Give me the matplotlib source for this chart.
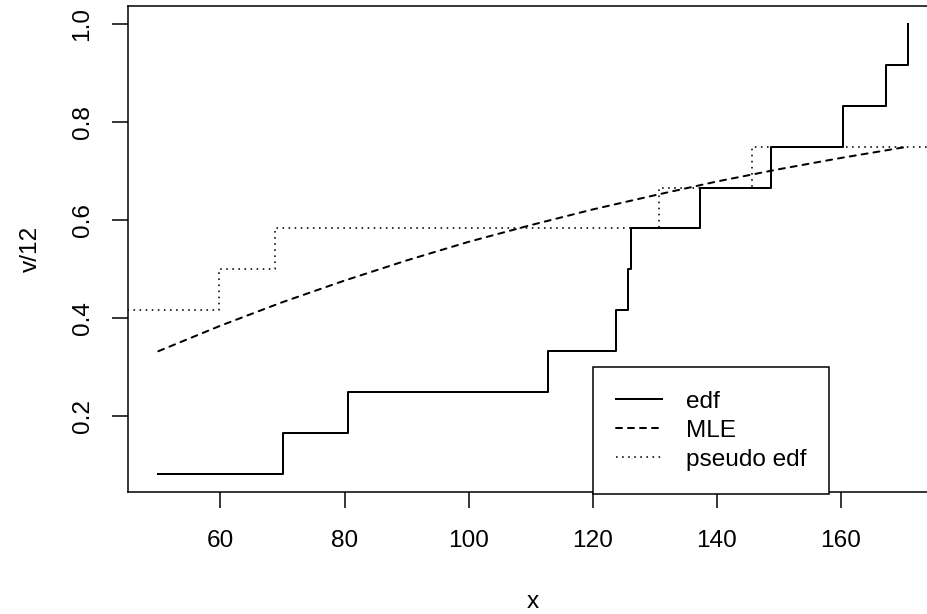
import numpy as np
import matplotlib
matplotlib.use("Agg")
import matplotlib.pyplot as plt

plt.rcParams.update({
    "font.family": ["Liberation Sans", "DejaVu Sans"],
    "font.size": 17.6,
})

# ---- data -------------------------------------------------------------
# ordered sample (edf jumps by 1/12 at each point)
x_obs = [50.0, 70.1, 80.6, 112.8, 123.7, 125.6, 126.1, 137.2, 148.8, 160.3, 167.2, 170.8]
v = np.arange(1, 13)

# fitted (MLE) distribution function
mle_x = [50, 60, 70, 80, 90, 100, 110, 120, 130, 140, 150, 160, 170.8]
mle_y = [0.333, 0.385, 0.433, 0.477, 0.518, 0.556, 0.590, 0.622, 0.651,
         0.679, 0.704, 0.727, 0.750]

# pseudo edf: jump points and levels
pseudo_breaks = [59.85, 68.8, 130.65, 145.7]
pseudo_levels = [5 / 12, 6 / 12, 7 / 12, 8 / 12, 9 / 12]

xticks = [60, 80, 100, 120, 140, 160]
yticks = [0.2, 0.4, 0.6, 0.8, 1.0]

# ---- figure -------------------------------------------------------------
fig = plt.figure(figsize=(9.28, 6.14), dpi=100)
ax = fig.add_axes([0.1383, 0.1992, 0.8725, 0.791])

# R-style axis ranges (4% padding)
xr = max(x_obs) - min(x_obs)
xlim = (min(x_obs) - 0.04 * xr, max(x_obs) + 0.04 * xr)
yr = 1 - 1 / 12
ylim = (1 / 12 - 0.04 * yr, 1 + 0.04 * yr)

lw = 1.44
ax.step(x_obs, v / 12, where="post", color="black", lw=lw, label="edf")
ax.plot(mle_x, mle_y, color="black", lw=lw, linestyle=(0, (3, 3)),
        dash_capstyle="round", label="MLE")
px = [xlim[0] - 5] + pseudo_breaks + [xlim[1] + 5]
py = pseudo_levels + [pseudo_levels[-1]]
ax.step(px, py, where="post", color="black", lw=lw * 0.8,
        linestyle=(0, (1, 2.8)), label="pseudo edf")

ax.set_xlim(xlim)
ax.set_ylim(ylim)
ax.set_xticks(xticks)
ax.set_xticklabels([str(t) for t in xticks])
ax.set_yticks(yticks)
ax.set_yticklabels([f"{t:.1f}" for t in yticks], rotation=90, va="center")
ax.tick_params(axis="both", length=11.5, width=1.1, color="black")
ax.tick_params(axis="x", pad=16)
ax.tick_params(axis="y", pad=13.5)
for s in ax.spines.values():
    s.set_linewidth(1.1)

ax.set_xlabel("x")
ax.set_ylabel("v/12")
ax.xaxis.set_label_coords(0.5, -0.2265)
ax.xaxis.label.set_va("center")
ax.yaxis.set_label_coords(-0.1202, 0.5)
ax.yaxis.label.set_va("center")

leg = ax.legend(loc="upper left", bbox_to_anchor=(120, 0.3),
                bbox_transform=ax.transData, borderaxespad=0,
                fancybox=False, framealpha=1, edgecolor="black",
                handlelength=1.9, handletextpad=0.95, labelspacing=0.28,
                borderpad=0.95)
leg.get_frame().set_linewidth(1.1)

fig.savefig("out.png", dpi=100)
